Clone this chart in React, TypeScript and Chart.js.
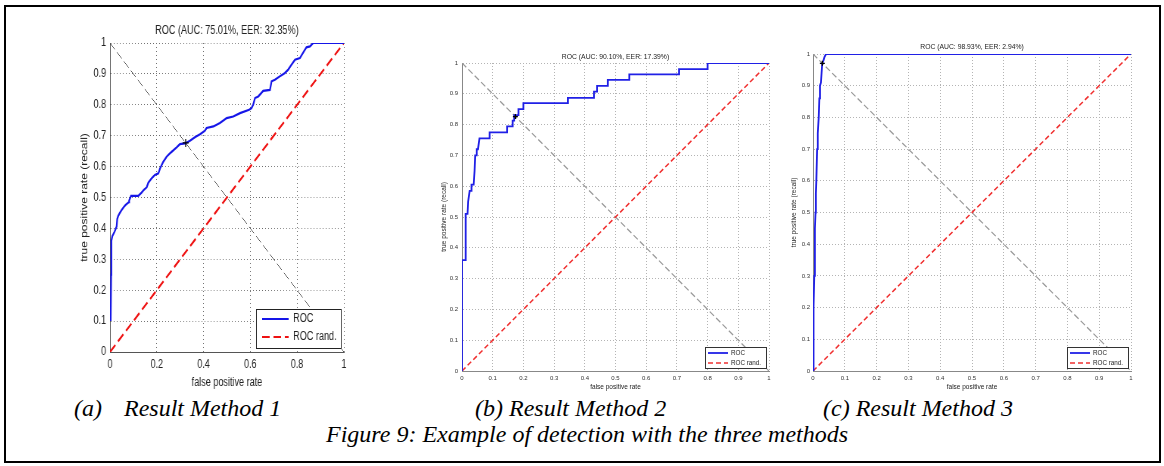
import React, { useEffect, useRef } from "react";
import { Chart, registerables } from "chart.js";

Chart.register(...registerables);

// ---------------- data ----------------
const roc1Fpr = [0.003, 0.005, 0.006, 0.01, 0.02, 0.0285, 0.031, 0.035, 0.042, 0.05, 0.06, 0.067, 0.081, 0.082, 0.09, 0.121, 0.135, 0.145, 0.157, 0.164, 0.178, 0.192, 0.207, 0.214, 0.228, 0.242, 0.255, 0.264, 0.285, 0.299, 0.321, 0.342, 0.363, 0.385, 0.406, 0.413, 0.442, 0.47, 0.499, 0.527, 0.556, 0.595, 0.605, 0.612, 0.62, 0.634, 0.655, 0.684, 0.691, 0.705, 0.726, 0.748, 0.762, 0.776, 0.791, 0.812, 0.829, 0.84, 0.855, 0.869, 1.0];
const roc1Tpr = [0.10, 0.25, 0.36, 0.375, 0.39, 0.406, 0.43, 0.44, 0.45, 0.46, 0.47, 0.476, 0.485, 0.49, 0.505, 0.505, 0.516, 0.525, 0.533, 0.548, 0.562, 0.573, 0.578, 0.594, 0.616, 0.632, 0.642, 0.648, 0.662, 0.673, 0.675, 0.684, 0.695, 0.705, 0.716, 0.725, 0.73, 0.741, 0.757, 0.762, 0.773, 0.784, 0.789, 0.80, 0.822, 0.827, 0.845, 0.848, 0.876, 0.881, 0.892, 0.903, 0.914, 0.93, 0.946, 0.951, 0.973, 0.986, 0.989, 1.0, 1.0];

const roc2Fpr = [0, 0, 0.011, 0.011, 0.013, 0.018, 0.02, 0.025, 0.031, 0.031, 0.038, 0.041, 0.043, 0.047, 0.048, 0.052, 0.057, 0.09, 0.09, 0.147, 0.147, 0.165, 0.165, 0.17, 0.17, 0.184, 0.184, 0.2, 0.2, 0.345, 0.345, 0.43, 0.43, 0.44, 0.44, 0.475, 0.475, 0.545, 0.545, 0.707, 0.707, 0.8, 0.8, 1];
const roc2Tpr = [0, 0.36, 0.36, 0.40, 0.51, 0.51, 0.55, 0.585, 0.585, 0.605, 0.605, 0.65, 0.70, 0.70, 0.72, 0.72, 0.755, 0.755, 0.775, 0.775, 0.794, 0.794, 0.813, 0.813, 0.831, 0.831, 0.85, 0.85, 0.87, 0.87, 0.887, 0.887, 0.907, 0.907, 0.926, 0.926, 0.945, 0.945, 0.963, 0.963, 0.98, 0.98, 1, 1];

const roc3Fpr = [0, 0, 0.002, 0.003, 0.004, 0.006, 0.006, 0.008, 0.009, 0.0105, 0.013, 0.015, 0.018, 0.02, 0.022, 0.025, 0.027, 0.029, 0.033, 0.036, 0.041, 1];
const roc3Tpr = [0, 0.1, 0.1, 0.2, 0.3, 0.32, 0.45, 0.5, 0.56, 0.6, 0.7, 0.75, 0.8, 0.86, 0.9, 0.91, 0.94, 0.97, 0.98, 0.99, 1, 1];

const randFpr = [0, 1];
const randTpr = [0, 1];
const eerLineFpr = [0, 1];
const eerLineTpr = [1, 0];

const aucValues = [75.01, 90.1, 98.93];
const eerValues = [32.35, 17.39, 2.94];

const seriesLabels = ["ROC", "ROC rand."];
const xAxisTitle = "false positive rate";
const yAxisTitle = "true positive rate (recall)";

const ticksCoarse = [0, 0.2, 0.4, 0.6, 0.8, 1];
const ticksCoarseLabels = ["0", "0.2", "0.4", "0.6", "0.8", "1"];
const ticksFine = [0, 0.1, 0.2, 0.3, 0.4, 0.5, 0.6, 0.7, 0.8, 0.9, 1];
const ticksFineLabels = ["0", "0.1", "0.2", "0.3", "0.4", "0.5", "0.6", "0.7", "0.8", "0.9", "1"];

const captions = ["Result Method 1", "Result Method 2", "Result Method 3"];
const captionTags = ["(a)", "(b)", "(c)"];
const figureCaption = "Figure 9: Example of detection with the three methods";

// ---------------- helpers ----------------
const pts = (xs: number[], ys: number[]) => xs.map((x, i) => ({ x, y: ys[i] }));
const fmt = (v: number) => v.toFixed(2);

const decorPlugin = {
  id: "decor",
  afterDraw(chart: any, _args: any, o: any) {
    const { ctx, chartArea: ca } = chart;
    const cx = (ca.left + ca.right) / 2;
    const cy = (ca.top + ca.bottom) / 2;
    ctx.save();
    ctx.fillStyle = o.textColor;
    ctx.textAlign = "center";
    ctx.textBaseline = "middle";
    ctx.font = `${o.titleSize}px ${o.family}`;
    ctx.fillText(o.title, cx, ca.top - o.titleOffset);
    ctx.font = `${o.axisSize}px ${o.family}`;
    ctx.fillText(o.xTitle, cx, ca.bottom + o.xTitleOffset);
    ctx.save();
    ctx.translate(ca.left - o.yTitleOffset, cy);
    ctx.rotate(-Math.PI / 2);
    ctx.fillText(o.yTitle, 0, 0);
    ctx.restore();

    // legend box (inside, lower right)
    const items = chart.data.datasets.filter((d: any) => seriesLabels.includes(d.label));
    const bx = ca.right - o.legRight - o.legW;
    const by = ca.bottom - o.legBottom - o.legH;
    ctx.fillStyle = "#ffffff";
    ctx.fillRect(bx, by, o.legW, o.legH);
    ctx.strokeStyle = o.legBorder;
    ctx.lineWidth = 1;
    ctx.setLineDash([]);
    ctx.strokeRect(Math.round(bx) + 0.5, Math.round(by) + 0.5, Math.round(o.legW), Math.round(o.legH));
    ctx.font = `${o.legSize}px ${o.family}`;
    ctx.textAlign = "left";
    items.forEach((d: any, i: number) => {
      const y = by + o.legRow0 + i * o.legRowGap;
      ctx.strokeStyle = d.borderColor;
      ctx.lineWidth = d.borderWidth;
      ctx.setLineDash(d.borderDash || []);
      ctx.beginPath();
      ctx.moveTo(bx + o.legLineX, y);
      ctx.lineTo(bx + o.legLineX + o.legLineLen, y);
      ctx.stroke();
      ctx.fillStyle = o.textColor;
      ctx.fillText(d.label, bx + o.legTextX, y);
    });
    ctx.restore();
  },
};

type PlotCfg = {
  left: number; top: number; width: number; height: number; scaleX: number;
  padTop: number; padRight: number; yW: number; xH: number;
  rocFpr: number[]; rocTpr: number[]; auc: number; eer: number;
  xTickVals: number[]; xTickLabels: string[]; yTickVals: number[]; yTickLabels: string[];
  family: string; tickSize: number; tickColor: string; xTickPad: number; yTickPad: number;
  gridColor: string; gridDash: number[]; axisColor: string;
  rocColor: string; rocWidth: number;
  randColor: string; randWidth: number; randDash: number[];
  diagColor: string; diagWidth: number; diagDash: number[];
  markRadius: number;
  decor: any;
};

function RocChart({ cfg }: { cfg: PlotCfg }) {
  const ref = useRef<HTMLCanvasElement | null>(null);
  useEffect(() => {
    if (!ref.current) return;
    const c = cfg;
    const tickFont = { family: c.family, size: c.tickSize };
    const mkScale = (horizontal: boolean) => {
      const vals = horizontal ? c.xTickVals : c.yTickVals;
      const labels = horizontal ? c.xTickLabels : c.yTickLabels;
      return {
        type: "linear",
        min: 0,
        max: 1,
        afterBuildTicks: (s: any) => {
          s.ticks = vals.map((v) => ({ value: v }));
        },
        afterFit: (s: any) => {
          if (horizontal) s.height = c.xH;
          else s.width = c.yW;
        },
        ticks: {
          autoSkip: false,
          maxRotation: 0,
          font: tickFont,
          color: c.tickColor,
          padding: horizontal ? c.xTickPad : c.yTickPad,
          callback: (_v: any, i: number) => labels[i],
        },
        grid: { color: c.gridColor, lineWidth: 1, drawTicks: false },
        border: { display: true, color: c.axisColor, width: 1, dash: c.gridDash },
      };
    };
    const chart = new Chart(ref.current, {
      type: "line",
      data: {
        datasets: [
          {
            label: "EER",
            data: [{ x: c.eer / 100, y: 1 - c.eer / 100 }],
            showLine: false,
            pointStyle: "cross",
            pointRadius: c.markRadius,
            borderColor: "#000000",
            backgroundColor: "#000000",
            borderWidth: 1.3,
          },
          {
            label: seriesLabels[0],
            data: pts(c.rocFpr, c.rocTpr),
            borderColor: c.rocColor,
            borderWidth: c.rocWidth,
            pointRadius: 0,
            tension: 0,
            fill: false,
          },
          {
            label: seriesLabels[1],
            data: pts(randFpr, randTpr),
            borderColor: c.randColor,
            borderWidth: c.randWidth,
            borderDash: c.randDash,
            pointRadius: 0,
            fill: false,
          },
          {
            label: "",
            data: pts(eerLineFpr, eerLineTpr),
            borderColor: c.diagColor,
            borderWidth: c.diagWidth,
            borderDash: c.diagDash,
            pointRadius: 0,
            fill: false,
          },
        ],
      },
      options: {
        responsive: false,
        animation: false,
        events: [],
        layout: { padding: { left: 0, top: c.padTop, right: c.padRight, bottom: 0 } },
        scales: { x: mkScale(true), y: mkScale(false) } as any,
        plugins: {
          legend: { display: false },
          tooltip: { enabled: false },
          decor: {
            ...c.decor,
            family: c.family,
            title: `ROC (AUC: ${fmt(c.auc)}%, EER: ${fmt(c.eer)}%)`,
            xTitle: xAxisTitle,
            yTitle: yAxisTitle,
          },
        } as any,
      },
      plugins: [decorPlugin as any],
    } as any);
    return () => chart.destroy();
  }, [cfg]);
  return (
    <canvas
      ref={ref}
      width={cfg.width}
      height={cfg.height}
      style={{
        position: "absolute",
        left: cfg.left,
        top: cfg.top,
        width: cfg.width,
        height: cfg.height,
        transform: `scaleX(${cfg.scaleX})`,
        transformOrigin: "0 0",
      }}
    />
  );
}

const sans = "'Liberation Sans', Arial, Helvetica, sans-serif";

const smallDecor = {
  textColor: "#222",
  titleSize: 6.8,
  axisSize: 6.5,
  legSize: 6.3,
  legBorder: "#333",
  legW: 61,
  legH: 21,
  legRight: 3,
  legBottom: 3,
  legRow0: 6,
  legRowGap: 10,
  legLineX: 3,
  legLineLen: 20,
  legTextX: 26,
};

// plot 1 is drawn square and squeezed horizontally, like the source figure
const S1 = 0.757;

const plot1: PlotCfg = {
  left: 60, top: 20, width: 396, height: 375, scaleX: S1,
  padTop: 23, padRight: 21, yW: 66, xH: 43,
  rocFpr: roc1Fpr, rocTpr: roc1Tpr, auc: aucValues[0], eer: eerValues[0],
  xTickVals: ticksCoarse, xTickLabels: ticksCoarseLabels,
  yTickVals: ticksFine, yTickLabels: ticksFineLabels,
  family: sans, tickSize: 12, tickColor: "#222", xTickPad: 5, yTickPad: 5,
  gridColor: "#6a6a6a", gridDash: [1, 3], axisColor: "#555",
  rocColor: "#1515e8", rocWidth: 2.2,
  randColor: "#ee1111", randWidth: 2.2, randDash: [10, 5],
  diagColor: "#555", diagWidth: 1, diagDash: [9, 4],
  markRadius: 4,
  decor: {
    textColor: "#222",
    titleSize: 12,
    titleOffset: 12,
    axisSize: 12,
    xTitleOffset: 31,
    yTitleOffset: 33,
    legSize: 12,
    legBorder: "#222",
    legW: 112,
    legH: 39,
    legRight: 4,
    legBottom: 4,
    legRow0: 10,
    legRowGap: 18,
    legLineX: 8,
    legLineLen: 35,
    legTextX: 49,
  },
};

const plot2: PlotCfg = {
  left: 420, top: 40, width: 365, height: 355, scaleX: 1,
  padTop: 23, padRight: 16, yW: 42, xH: 24,
  rocFpr: roc2Fpr, rocTpr: roc2Tpr, auc: aucValues[1], eer: eerValues[1],
  xTickVals: ticksFine, xTickLabels: ticksFineLabels,
  yTickVals: ticksFine, yTickLabels: ticksFineLabels,
  family: sans, tickSize: 6, tickColor: "#333", xTickPad: 4, yTickPad: 4,
  gridColor: "#b4b4b4", gridDash: [1, 2], axisColor: "#888",
  rocColor: "#2020e6", rocWidth: 1.8,
  randColor: "#f03030", randWidth: 1.5, randDash: [5, 3],
  diagColor: "#9a9a9a", diagWidth: 1.2, diagDash: [6, 3],
  markRadius: 2.5,
  decor: { ...smallDecor, titleOffset: 6, xTitleOffset: 16, yTitleOffset: 18 },
};

const plot3: PlotCfg = {
  left: 775, top: 30, width: 375, height: 365, scaleX: 1,
  padTop: 24, padRight: 19, yW: 38, xH: 24,
  rocFpr: roc3Fpr, rocTpr: roc3Tpr, auc: aucValues[2], eer: eerValues[2],
  xTickVals: ticksFine, xTickLabels: ticksFineLabels,
  yTickVals: ticksFine, yTickLabels: ticksFineLabels,
  family: sans, tickSize: 6, tickColor: "#333", xTickPad: 4, yTickPad: 3,
  gridColor: "#b4b4b4", gridDash: [1, 2], axisColor: "#888",
  rocColor: "#2020e6", rocWidth: 1.8,
  randColor: "#f03030", randWidth: 1.5, randDash: [5, 3],
  diagColor: "#9a9a9a", diagWidth: 1.2, diagDash: [6, 3],
  markRadius: 2.5,
  decor: { ...smallDecor, titleOffset: 7, xTitleOffset: 16, yTitleOffset: 19 },
};

const serif = "'Liberation Serif', 'Times New Roman', Times, serif";
const capStyle = (left: number, top: number): React.CSSProperties => ({
  position: "absolute",
  left,
  top,
  fontFamily: serif,
  fontStyle: "italic",
  fontSize: 24,
  lineHeight: "24px",
  whiteSpace: "nowrap",
  color: "#000",
});

export default function App() {
  return (
    <div style={{ position: "absolute", left: 0, top: 0, width: 1164, height: 466, background: "#fff", overflow: "hidden" }}>
      <div
        style={{
          position: "absolute",
          left: 4,
          top: 5,
          width: 1153,
          height: 454,
          border: "2px solid #000",
        }}
      />
      <RocChart cfg={plot1} />
      <RocChart cfg={plot2} />
      <RocChart cfg={plot3} />
      <div style={capStyle(74, 396)}>
        <span>{captionTags[0]}</span>
        <span style={{ marginLeft: 22 }}>{captions[0]}</span>
      </div>
      <div style={capStyle(475, 396)}>
        {captionTags[1]} {captions[1]}
      </div>
      <div style={capStyle(823, 396)}>
        {captionTags[2]} {captions[2]}
      </div>
      <div style={capStyle(326, 422)}>{figureCaption}</div>
    </div>
  );
}
